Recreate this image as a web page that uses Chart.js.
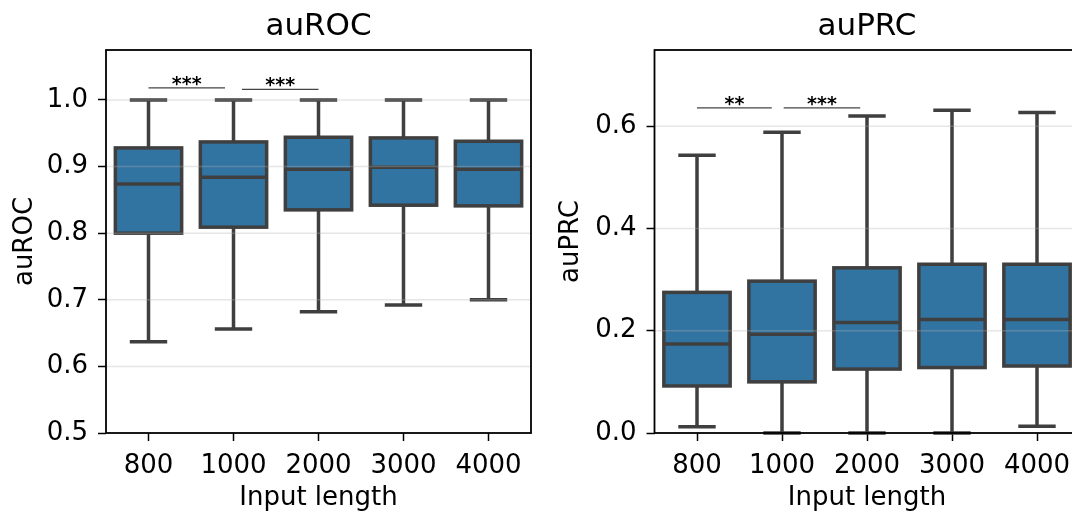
<!DOCTYPE html>
<html>
<head>
<meta charset="utf-8">
<title>auROC / auPRC by input length</title>
<script src="https://cdn.jsdelivr.net/npm/chart.js@4.4.1/dist/chart.umd.min.js"></script>
<style>
    html, body { margin: 0; padding: 0; background: #fff; width: 1072px; height: 515px; overflow: hidden; }
    #rocChart { position: absolute; left: 0; top: 0; }
    #prcChart { position: absolute; left: 540px; top: 0; }
</style>
</head>
<body>
<canvas id="rocChart" width="540" height="515"></canvas>
<canvas id="prcChart" width="545" height="515"></canvas>
<script>
// Input lengths (x categories, shared by both panels)
const lengths = ['800', '1000', '2000', '3000', '4000'];

// auROC box stats: whisker ends, quartiles, median
const rocMin = [0.637, 0.656, 0.682, 0.692, 0.700];
const rocQ1  = [0.800, 0.809, 0.835, 0.842, 0.841];
const rocMed = [0.874, 0.884, 0.896, 0.899, 0.896];
const rocQ3  = [0.928, 0.937, 0.944, 0.943, 0.938];
const rocMax = [1.000, 1.000, 1.000, 1.000, 1.000];
const rocTicks = [0.5, 0.6, 0.7, 0.8, 0.9, 1.0];

// auPRC box stats
const prcMin = [0.012, 0.000, 0.000, 0.000, 0.013];
const prcQ1  = [0.092, 0.100, 0.125, 0.128, 0.131];
const prcMed = [0.174, 0.193, 0.216, 0.222, 0.222];
const prcQ3  = [0.275, 0.297, 0.323, 0.330, 0.330];
const prcMax = [0.543, 0.588, 0.620, 0.631, 0.627];
const prcTicks = [0.0, 0.2, 0.4, 0.6];

// Significance brackets (category units from/to, height, stars)
const rocSigFrom = [0, 1.1];
const rocSigTo   = [0.9, 2.0];
const rocSigY    = [1.018, 1.016];
const rocSigText = ['***', '***'];

const prcSigFrom = [0, 1.02];
const prcSigTo   = [0.88, 1.92];
const prcSigY    = [0.636, 0.636];
const prcSigText = ['**', '***'];

const FONT = "'DejaVu Sans', sans-serif";
const EDGE = '#3f3f3f';

// Whiskers, box outlines, medians, grid, frame and star brackets
const boxParts = {
    id: 'boxParts',
    beforeDatasetsDraw(chart, args, opts) {
        const { ctx } = chart;
        const xs = chart.scales.x, ys = chart.scales.y;
        const step = xs.getPixelForValue(1) - xs.getPixelForValue(0);
        const capHalf = step * 0.22;
        ctx.save();
        ctx.strokeStyle = EDGE;
        ctx.lineWidth = 3.5;
        opts.min.forEach((lo, i) => {
            const x = xs.getPixelForValue(i);
            const yLo = ys.getPixelForValue(lo), yHi = ys.getPixelForValue(opts.max[i]);
            ctx.beginPath();
            ctx.moveTo(x, ys.getPixelForValue(opts.q3[i])); ctx.lineTo(x, yHi);
            ctx.moveTo(x, ys.getPixelForValue(opts.q1[i])); ctx.lineTo(x, yLo);
            ctx.moveTo(x - capHalf, yHi); ctx.lineTo(x + capHalf, yHi);
            ctx.moveTo(x - capHalf, yLo); ctx.lineTo(x + capHalf, yLo);
            ctx.stroke();
        });
        ctx.restore();
    },
    afterDatasetsDraw(chart, args, opts) {
        const { ctx, chartArea } = chart;
        const ys = chart.scales.y, xs = chart.scales.x;
        const meta = chart.getDatasetMeta(0);
        ctx.save();

        // box outlines (stroke centred on the quartile edges) and medians
        ctx.strokeStyle = EDGE;
        ctx.lineWidth = 3.5;
        opts.med.forEach((m, i) => {
            const { x, width } = meta.data[i].getProps(['x', 'width'], true);
            const yTop = ys.getPixelForValue(opts.q3[i]);
            const yBot = ys.getPixelForValue(opts.q1[i]);
            ctx.strokeRect(x - width / 2, yTop, width, yBot - yTop);
            const y = ys.getPixelForValue(m);
            ctx.beginPath();
            ctx.moveTo(x - width / 2, y);
            ctx.lineTo(x + width / 2, y);
            ctx.stroke();
        });

        // light horizontal grid, drawn over the boxes
        ctx.strokeStyle = 'rgba(176,176,176,0.32)';
        ctx.lineWidth = 1.5;
        ys.ticks.forEach(t => {
            const y = ys.getPixelForValue(t.value);
            if (y >= chartArea.bottom - 1 || y <= chartArea.top + 1) return;
            ctx.beginPath();
            ctx.moveTo(chartArea.left, y);
            ctx.lineTo(chartArea.right, y);
            ctx.stroke();
        });

        // frame
        ctx.strokeStyle = '#000';
        ctx.lineWidth = 1.8;
        ctx.strokeRect(chartArea.left, chartArea.top,
            chartArea.right - chartArea.left, chartArea.bottom - chartArea.top);

        // significance brackets
        ctx.strokeStyle = '#444';
        ctx.lineWidth = 1.2;
        ctx.fillStyle = '#000';
        ctx.font = 'bold 19px ' + FONT;
        ctx.textAlign = 'center';
        ctx.textBaseline = 'alphabetic';
        opts.sigText.forEach((txt, k) => {
            const x0 = xs.getPixelForValue(opts.sigFrom[k]);
            const x1 = xs.getPixelForValue(opts.sigTo[k]);
            const y = ys.getPixelForValue(opts.sigY[k]);
            ctx.beginPath();
            ctx.moveTo(x0, y);
            ctx.lineTo(x1, y);
            ctx.stroke();
            ctx.fillText(txt, (x0 + x1) / 2, y + 2);
        });
        ctx.restore();
    }
};

function makeBoxChart(canvasId, cfg) {
    const canvas = document.getElementById(canvasId);
    return new Chart(canvas, {
        type: 'bar',
        data: {
            labels: lengths,
            datasets: [{
                data: cfg.q1.map((v, i) => [v, cfg.q3[i]]),
                backgroundColor: '#3274a1',
                borderWidth: 0,
                barPercentage: 0.78,
                categoryPercentage: 1.0
            }]
        },
        options: {
            responsive: false,
            animation: false,
            devicePixelRatio: 1,
            layout: { padding: { left: 0, right: cfg.padRight, top: 0, bottom: 0 } },
            plugins: {
                legend: { display: false },
                tooltip: { enabled: false },
                title: {
                    display: true,
                    text: cfg.title,
                    fullSize: false,
                    color: '#000',
                    font: { family: FONT, size: 31, weight: 'normal', lineHeight: 1.2 },
                    padding: { top: 8.5, bottom: 4.3 }
                },
                boxParts: {
                    min: cfg.min, q1: cfg.q1, med: cfg.med, q3: cfg.q3, max: cfg.max,
                    sigFrom: cfg.sigFrom, sigTo: cfg.sigTo, sigY: cfg.sigY, sigText: cfg.sigText
                }
            },
            scales: {
                x: {
                    grid: { offset: false, drawOnChartArea: false, tickLength: 8, tickColor: '#000', tickWidth: 1.5 },
                    border: { display: false },
                    ticks: { color: '#000', font: { family: FONT, size: 26 }, padding: 10, maxRotation: 0 },
                    title: {
                        display: true, text: 'Input length', color: '#000',
                        font: { family: FONT, size: 26 }, padding: { top: 0, bottom: 0.7 }
                    },
                    afterFit(scale) { scale.height = 82; }
                },
                y: {
                    min: cfg.yMin,
                    max: cfg.yMax,
                    afterBuildTicks(scale) { scale.ticks = cfg.ticks.map(v => ({ value: v })); },
                    grid: { drawOnChartArea: false, tickLength: 8, tickColor: '#000', tickWidth: 1.5 },
                    border: { display: false },
                    ticks: {
                        color: '#000', font: { family: FONT, size: 26 }, padding: 10,
                        callback: v => Number(v).toFixed(1)
                    },
                    title: {
                        display: true, text: cfg.yTitle, color: '#000',
                        font: { family: FONT, size: 26 }, padding: { top: cfg.yTitlePad, bottom: 0 }
                    },
                    afterFit(scale) { scale.width = cfg.yWidth; }
                }
            }
        },
        plugins: [boxParts]
    });
}

makeBoxChart('rocChart', {
    title: 'auROC', yTitle: 'auROC',
    min: rocMin, q1: rocQ1, med: rocMed, q3: rocQ3, max: rocMax,
    ticks: rocTicks, yMin: 0.5, yMax: 1.075,
    sigFrom: rocSigFrom, sigTo: rocSigTo, sigY: rocSigY, sigText: rocSigText,
    yWidth: 106, yTitlePad: 10, padRight: 9
});

makeBoxChart('prcChart', {
    title: 'auPRC', yTitle: 'auPRC',
    min: prcMin, q1: prcQ1, med: prcMed, q3: prcQ3, max: prcMax,
    ticks: prcTicks, yMin: 0, yMax: 0.749,
    sigFrom: prcSigFrom, sigTo: prcSigTo, sigY: prcSigY, sigText: prcSigText,
    yWidth: 114.5, yTitlePad: 16, padRight: 5.5
});
</script>
</body>
</html>
